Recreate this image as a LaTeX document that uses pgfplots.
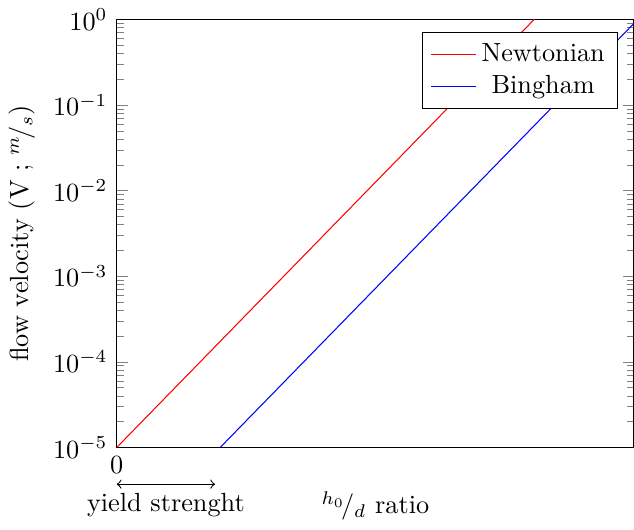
\documentclass[border=0pt]{standalone}
\usepackage{pgfplots}
\pgfplotsset{compat=1.18}

\begin{document}
\begin{tikzpicture}
  \begin{axis}[
      name=ax,
      scale only axis,
      width=197pt,
      height=163pt,
      ymode=log,
      xmin=0, xmax=10,
      ymin=1e-5, ymax=1,
      xtick={0},
      xlabel={$^{h_0}\!/_{d}$ ratio},
      xlabel style={yshift=0pt},
      ylabel={flow velocity (V ; $^{m}\!/_{s}$)},
      legend pos=north east,
      legend cell align=center,
    ]
    \addplot[red, no marks] coordinates {(0,1e-5) (8.07,1)};
    \addlegendentry{Newtonian}
    \addplot[blue, no marks] coordinates {(2,1e-5) (10,0.9)};
    \addlegendentry{Bingham}
    \coordinate (ys0) at (axis cs:0,1e-5);
    \coordinate (ys1) at (axis cs:1.9,1e-5);
  \end{axis}
  % yield strength marker below the axis
  \draw[<->] ([yshift=-14pt]ys0) -- ([yshift=-14pt]ys1)
    node[midway, below] {yield strenght};
  \pgfresetboundingbox
  \path[use as bounding box] (ax.outer south west) rectangle (ax.east |- ax.outer north);
\end{tikzpicture}
\end{document}
